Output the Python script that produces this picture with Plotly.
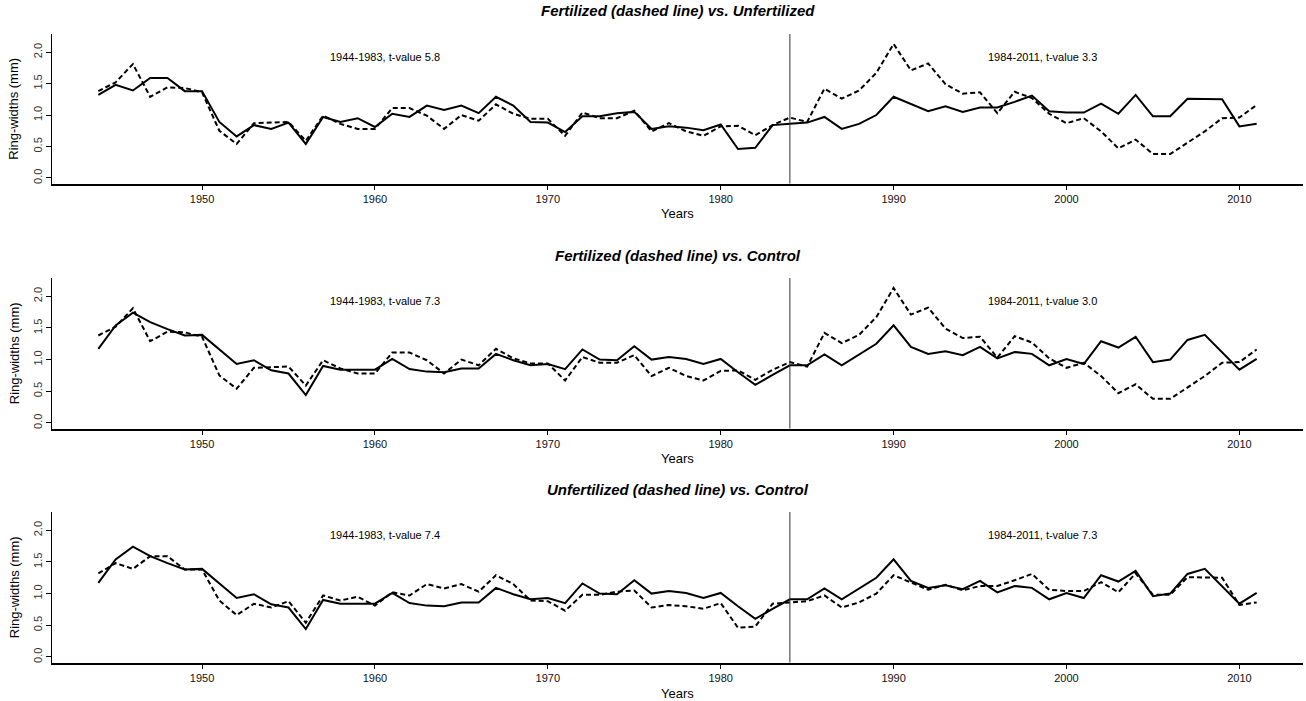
import plotly.graph_objects as go

years = list(range(1944, 2012))

fertilized = [1.38, 1.52, 1.81, 1.29, 1.44, 1.43, 1.36, 0.75, 0.54, 0.87,
              0.88, 0.89, 0.59, 0.99, 0.86, 0.78, 0.78, 1.11, 1.11, 0.99,
              0.78, 1.00, 0.91, 1.17, 1.02, 0.94, 0.94, 0.67, 1.04, 0.95,
              0.95, 1.07, 0.74, 0.87, 0.74, 0.67, 0.82, 0.83, 0.68, 0.84,
              0.96, 0.89, 1.42, 1.26, 1.39, 1.67, 2.13, 1.71, 1.82, 1.49,
              1.34, 1.36, 1.03, 1.37, 1.27, 1.02, 0.87, 0.95, 0.74, 0.47,
              0.61, 0.38, 0.38, 0.56, 0.74, 0.95, 0.96, 1.16]

unfertilized = [1.32, 1.48, 1.39, 1.59, 1.59, 1.38, 1.38, 0.89, 0.66, 0.84,
                0.78, 0.88, 0.54, 0.97, 0.89, 0.95, 0.81, 1.02, 0.97, 1.15,
                1.08, 1.15, 1.03, 1.29, 1.15, 0.89, 0.88, 0.73, 0.98, 0.98,
                1.03, 1.05, 0.78, 0.82, 0.80, 0.76, 0.85, 0.46, 0.48, 0.84,
                0.86, 0.88, 0.97, 0.78, 0.86, 1.00, 1.29, 1.18, 1.06, 1.14,
                1.05, 1.12, 1.12, 1.21, 1.31, 1.06, 1.04, 1.04, 1.18, 1.02,
                1.32, 0.98, 0.98, 1.26, 1.26, 1.25, 0.82, 0.86]

control = [1.17, 1.54, 1.74, 1.59, 1.48, 1.38, 1.39, 1.16, 0.93, 0.99,
           0.83, 0.78, 0.44, 0.90, 0.84, 0.84, 0.84, 1.01, 0.85, 0.81,
           0.80, 0.86, 0.86, 1.09, 0.99, 0.91, 0.93, 0.85, 1.16, 1.00,
           0.99, 1.21, 1.00, 1.04, 1.01, 0.93, 1.01, 0.80, 0.60, 0.76,
           0.91, 0.91, 1.08, 0.91, 1.08, 1.25, 1.54, 1.20, 1.09, 1.13,
           1.07, 1.20, 1.02, 1.12, 1.09, 0.91, 1.01, 0.93, 1.29, 1.19,
           1.36, 0.96, 1.00, 1.31, 1.39, 1.12, 0.84, 1.01]

panel_titles = ["Fertilized (dashed line) vs. Unfertilized",
                "Fertilized (dashed line) vs. Control",
                "Unfertilized (dashed line) vs. Control"]
early_labels = ["1944-1983, t-value 5.8", "1944-1983, t-value 7.3", "1944-1983, t-value 7.4"]
late_labels = ["1984-2011, t-value 3.3", "1984-2011, t-value 3.0", "1984-2011, t-value 7.3"]
break_year = 1984
label_x_early, label_x_late, label_y = 1960.6, 1998.6, 1.92

pairs = [(fertilized, unfertilized), (fertilized, control), (unfertilized, control)]

W, H = 1306, 701
x0p, x1p = 52 / W, 1303 / W
panels_px = [(34, 183.5), (278, 428.5), (512, 662.5)]
domains = [[1 - b / H, 1 - t / H] for t, b in panels_px]

FONT = "Liberation Sans, Arial, sans-serif"
fig = go.Figure()
for i, (dashed, solid) in enumerate(pairs):
    xa = "x" if i == 0 else f"x{i+1}"
    ya = "y" if i == 0 else f"y{i+1}"
    fig.add_trace(go.Scatter(x=years, y=solid, mode="lines", xaxis=xa, yaxis=ya,
                             line=dict(color="black", width=2), showlegend=False))
    fig.add_trace(go.Scatter(x=years, y=dashed, mode="lines", xaxis=xa, yaxis=ya,
                             line=dict(color="black", width=2, dash="5px,3px"), showlegend=False))
    key = "" if i == 0 else str(i + 1)
    fig.layout["xaxis" + key] = dict(
        domain=[x0p, x1p], anchor=ya, range=[1941.32, 2013.68],
        tickvals=[1950, 1960, 1970, 1980, 1990, 2000, 2010],
        showline=True, linecolor="black", linewidth=1.5, ticks="outside",
        ticklen=5, tickcolor="black", showgrid=False, zeroline=False,
        tickfont=dict(family=FONT, size=11, color="#111"))
    fig.layout["yaxis" + key] = dict(
        domain=domains[i], anchor=xa, range=[-0.088, 2.288],
        tickvals=[0, 0.5, 1.0, 1.5, 2.0], ticktext=["0.0", "0.5", "1.0", "1.5", "2.0"],
        tickangle=-90, showline=True, linecolor="black", linewidth=1,
        ticks="outside", ticklen=5, tickcolor="black", showgrid=False, zeroline=False,
        tickfont=dict(family=FONT, size=11, color="#333"))
    fig.add_shape(type="line", xref=xa, yref=f"{ya} domain", x0=break_year, x1=break_year,
                  y0=0, y1=1, line=dict(color="#333", width=1))
    for lx, txt in ((label_x_early, early_labels[i]), (label_x_late, late_labels[i])):
        fig.add_annotation(xref=xa, yref=ya, x=lx, y=label_y, text=txt,
                           xanchor="center", yanchor="middle", showarrow=False,
                           font=dict(family=FONT, size=11, color="black"))
    t, b = panels_px[i]
    fig.add_annotation(xref="paper", yref="paper", x=(x0p + x1p) / 2, y=1 - (t - 23) / H,
                       text=f"<b><i>{panel_titles[i]}</i></b>", showarrow=False,
                       xanchor="center", yanchor="middle",
                       font=dict(family=FONT, size=15, color="black"))
    fig.add_annotation(xref="paper", yref="paper", x=(x0p + x1p) / 2, y=1 - (b + 30.5) / H,
                       text="Years", showarrow=False, xanchor="center", yanchor="middle",
                       font=dict(family=FONT, size=13, color="black"))
    fig.add_annotation(xref="paper", yref="paper", x=14 / W, y=1 - ((t + b) / 2) / H,
                       text="Ring-widths (mm)", textangle=-90, showarrow=False,
                       xanchor="center", yanchor="middle",
                       font=dict(family=FONT, size=13, color="black"))

fig.update_layout(width=W, height=H, margin=dict(l=0, r=0, t=0, b=0),
                  plot_bgcolor="white", paper_bgcolor="white")
fig.write_html("out.html", config={"displayModeBar": False},
               post_script="document.body.style.margin='0px';")
